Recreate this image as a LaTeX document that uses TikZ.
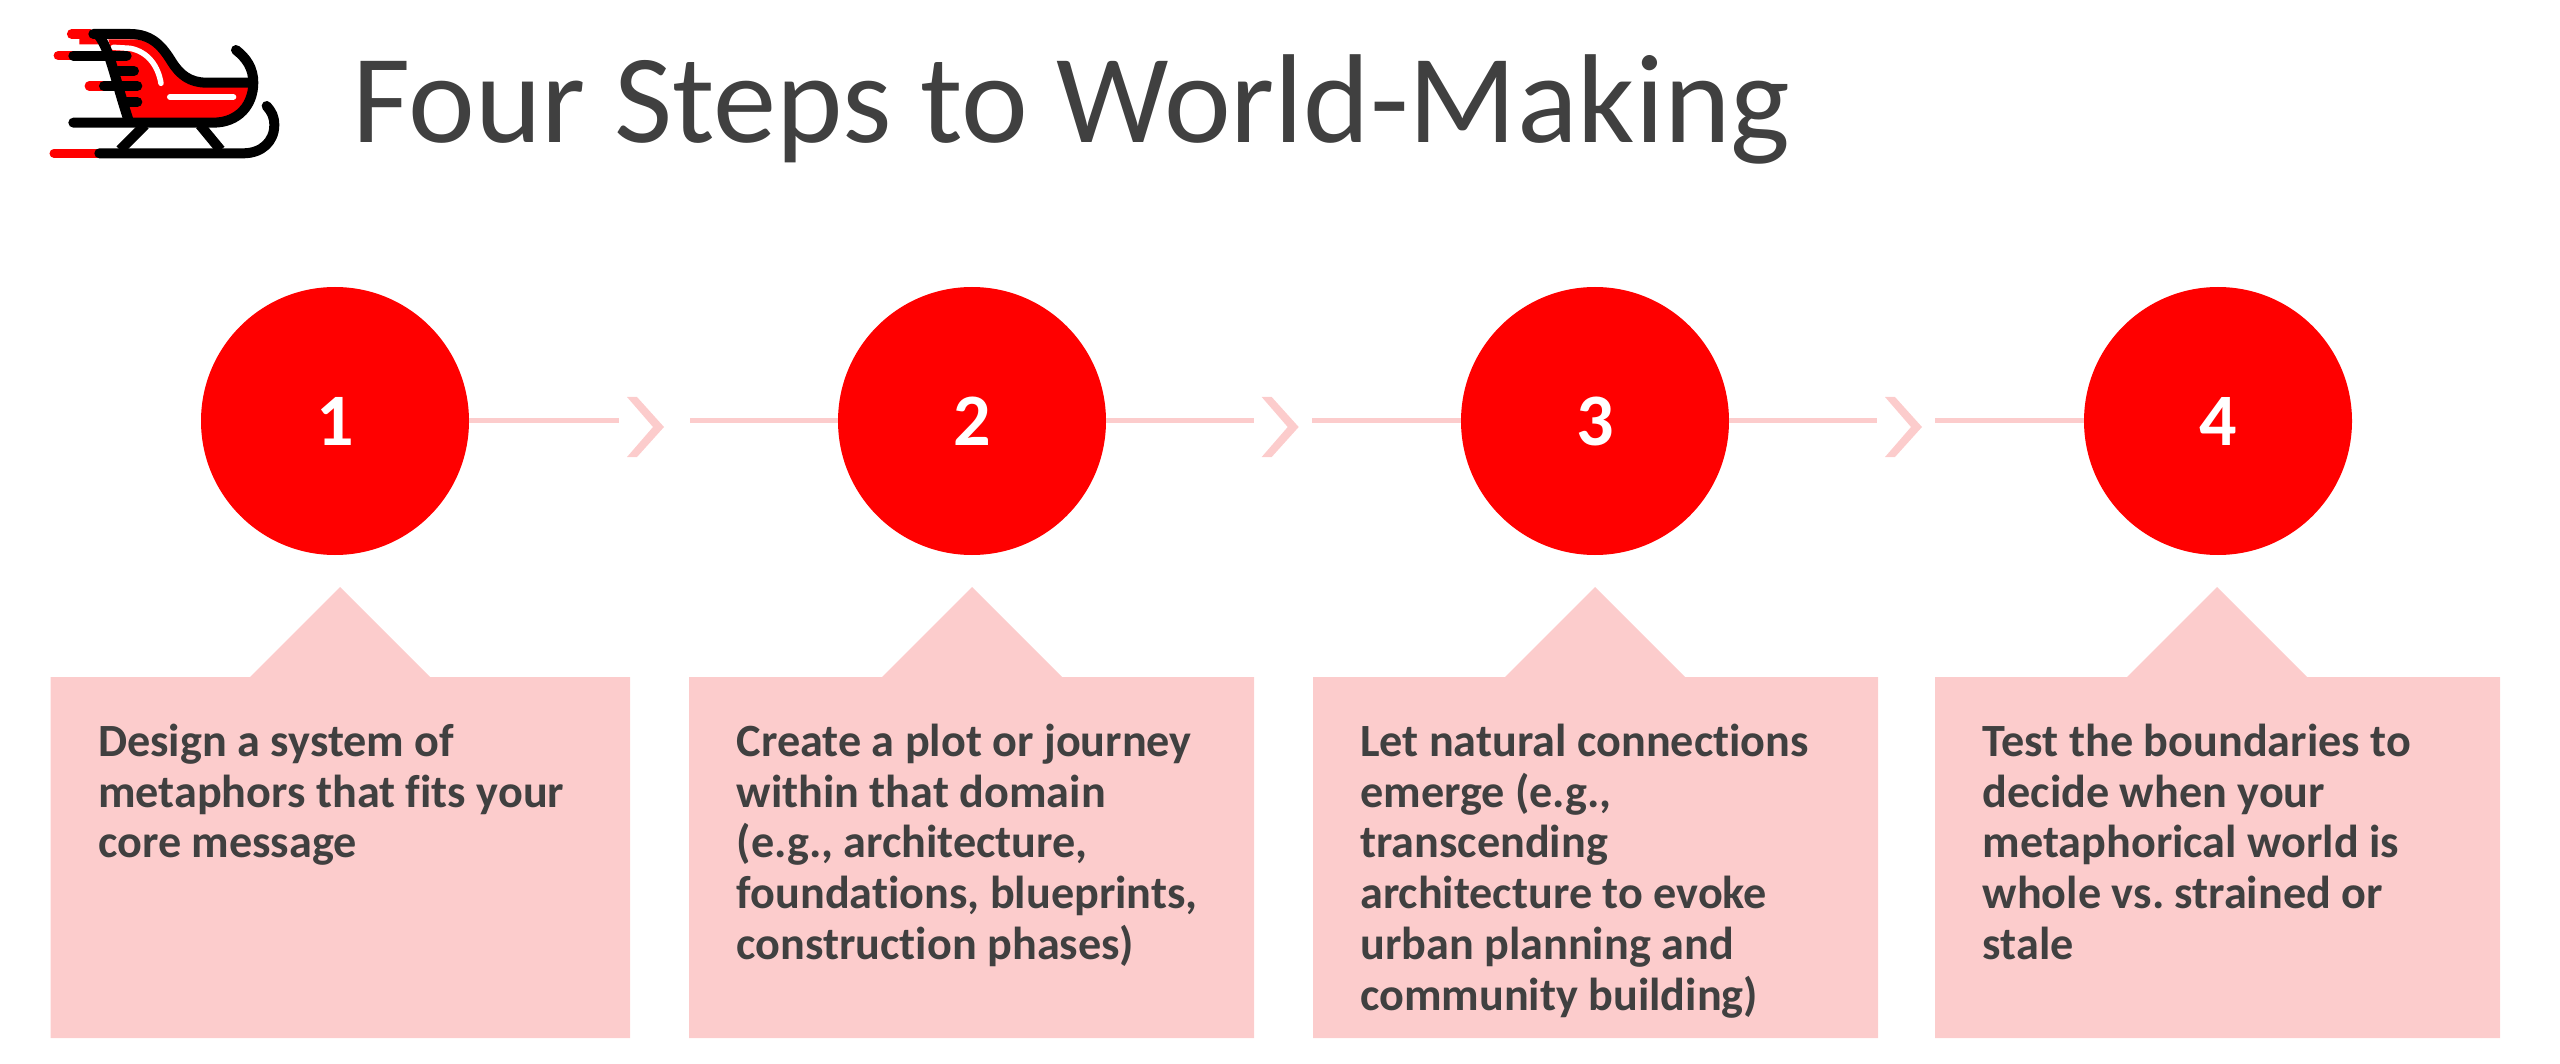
\documentclass[tikz,border=0pt]{standalone}
\usepackage{fontspec}
\setmainfont[Ligatures=NoCommon]{Carlito}
\definecolor{pinkbox}{HTML}{FCCCCC}
\definecolor{inkgrey}{HTML}{404040}
\definecolor{sred}{HTML}{FF0000}
\tikzset{
  x=1pt,y=-1pt,
  stepcircle/.style={circle,fill=sred,draw=none,minimum size=268pt,inner sep=0pt,text=white,font=\fontsize{74}{80}\selectfont\bfseries},
  callout/.style={fill=pinkbox,draw=none},
  boxtext/.style={anchor=base west,inner sep=0pt,align=left,text=inkgrey,font=\fontsize{46.2}{50.7}\selectfont\bfseries\frenchspacing},
  linkline/.style={draw=pinkbox,line width=5pt},
  chevronmark/.style={fill=pinkbox,draw=none},
  blk/.style={draw=black,line width=10pt,line cap=round,line join=round},
  redl/.style={draw=sred,line width=9.5pt,line cap=round},
  whl/.style={draw=white,line width=5.5pt,line cap=round}
}
\begin{document}
\begin{tikzpicture}
\useasboundingbox (0,0) rectangle (2560,1064);
% title
\node[anchor=base west,inner sep=0pt,text=inkgrey,font=\fontsize{126.5}{130}\selectfont] (title) at (352,143) {Four Steps to World-Making};
% sleigh
\begin{scope}[shift={(30,10)},x=0.3333pt,y=-0.3333pt]
  \fill[sred] (235,88) -- (320,88) .. controls (400,100) and (410,160) .. (440,190) .. controls (465,215) and (490,222) .. (520,222) -- (660,222) .. controls (650,290) and (600,330) .. (550,330) -- (305,330) -- cycle;
  \draw[redl] (125,72) -- (180,72);
  \fill[sred] (175,62) -- (215,62) -- (215,103) -- (148,103) -- (148,82) -- (175,82) -- cycle;
  \draw[redl] (85,137) -- (130,137);
  \draw[redl] (178,228) -- (222,228);
  \draw[redl,line width=9pt] (72,430) -- (205,430);
  \draw[whl] (250,112) -- (300,115) .. controls (355,125) and (385,170) .. (393,220);
  \draw[whl,line width=6pt] (420,261) -- (610,261);
  \draw[blk] (130,137) -- (290,137);
  \draw[blk] (265,183) -- (312,183);
  \draw[blk] (222,228) -- (322,228);
  \draw[blk] (285,276) -- (322,276);
  \draw[blk] (190,72) -- (300,72) .. controls (370,72) and (400,115) .. (425,155) .. controls (450,195) and (480,218) .. (530,218) -- (665,218);
  \draw[blk] (205,75) .. controls (240,120) and (250,190) .. (297,335);
  \draw[blk] (618,120) .. controls (650,145) and (670,175) .. (670,218) .. controls (670,285) and (625,338) .. (550,338) -- (130,338);
  \draw[blk] (208,430) -- (640,430) .. controls (695,430) and (733,395) .. (733,345) .. controls (733,320) and (725,305) .. (710,288);
  \draw[blk,line cap=butt] (345,345) -- (270,420);
  \draw[blk,line cap=butt] (510,345) -- (572,420);
\end{scope}
% circles
\node[stepcircle] (c1) at (335,421) {1};
\node[stepcircle] (c2) at (972,421) {2};
\node[stepcircle] (c3) at (1595,421) {3};
\node[stepcircle] (c4) at (2218,421) {4};
% callouts
\path[callout] (50.5,677) -- (250,677) -- (340,587) -- (430,677) -- (630,677) -- (630,1038) -- (50.5,1038) -- cycle;
\path[callout] (689,677) -- (882,677) -- (972,587) -- (1062,677) -- (1254,677) -- (1254,1038) -- (689,1038) -- cycle;
\path[callout] (1313,677) -- (1505,677) -- (1595,587) -- (1685,677) -- (1878,677) -- (1878,1038) -- (1313,1038) -- cycle;
\path[callout] (1935,677) -- (2127,677) -- (2217,587) -- (2307,677) -- (2500,677) -- (2500,1038) -- (1935,1038) -- cycle;
% texts (a multi-line node's base is its last line)
\node[boxtext] (t1) at (98,857.9) {Design a system of\\metaphors that fits your\\core message};
\node[boxtext] (t2) at (736.5,959.3) {Create a plot or journey\\within that domain\\(e.g., architecture,\\foundations, blueprints,\\construction phases)};
\node[boxtext] (t3) at (1360,1010) {Let natural connections\\emerge (e.g.,\\transcending\\architecture to evoke\\urban planning and\\community building)};
\node[boxtext] (t4) at (1982.5,959.3) {Test the boundaries to\\decide when your\\metaphorical world is\\whole vs. strained or\\stale};
% connectors
\coordinate (e1) at (619.3,421); \coordinate (s2) at (690,421);
\coordinate (e2) at (1254.3,421); \coordinate (s3) at (1312,421);
\coordinate (e3) at (1877,421); \coordinate (s4) at (1935,421);
\draw[linkline] (c1.east) -- (e1);
\draw[linkline] (s2) -- (c2.west);
\draw[linkline] (c2.east) -- (e2);
\draw[linkline] (s3) -- (c3.west);
\draw[linkline] (c3.east) -- (e3);
\draw[linkline] (s4) -- (c4.west);
\fill[chevronmark] (627,397) -- (637,397) -- (664,427) -- (637,457) -- (627,457) -- (653,427) -- cycle;
\fill[chevronmark] (1261.7,397) -- (1271.7,397) -- (1298.7,427) -- (1271.7,457) -- (1261.7,457) -- (1287.7,427) -- cycle;
\fill[chevronmark] (1885,397) -- (1895,397) -- (1922,427) -- (1895,457) -- (1885,457) -- (1911,427) -- cycle;
\end{tikzpicture}
\end{document}
